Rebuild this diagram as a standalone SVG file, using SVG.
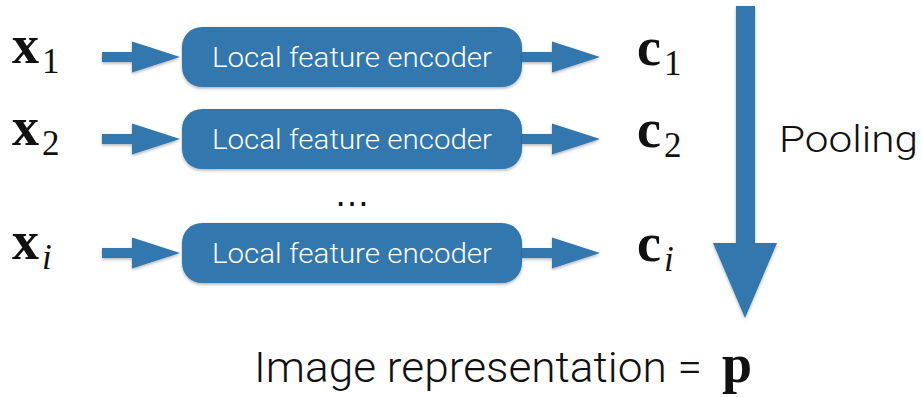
<svg xmlns="http://www.w3.org/2000/svg" width="922" height="397" viewBox="0 0 922 397">
  <style>
    .box { fill: #3077ae; filter: url(#shadow); }
    .arrow { fill: #3077ae; filter: url(#shadow); }
    .label { fill: #ffffff; font-family: "Roboto", "Liberation Sans", sans-serif; font-weight: 300; font-size: 27px; text-anchor: middle; }
    .math { fill: #111111; font-family: "Liberation Serif", "DejaVu Serif", serif; font-weight: bold; font-size: 54px; }
    .sub { font-family: "Liberation Serif", "DejaVu Serif", serif; font-weight: normal; font-size: 35px; }
    .subi { font-family: "Liberation Serif", "DejaVu Serif", serif; font-weight: normal; font-style: italic; font-size: 35px; }
    .plain { fill: #111111; font-family: "Roboto", "Liberation Sans", sans-serif; font-weight: 300; }
  </style>
  <defs>
    <filter id="shadow" x="-10%" y="-20%" width="120%" height="150%">
      <feDropShadow dx="0" dy="1.5" stdDeviation="1.5" flood-color="#000" flood-opacity="0.3"/>
    </filter>
    <!-- horizontal block arrow, origin at left end of shaft, centred on y=0 -->
    <path id="harrow" d="M0,-5 H30 V-15.5 L78,0 L30,15.5 V5 H0 Z"/>
  </defs>

  <rect width="922" height="397" fill="#ffffff"/>

  <!-- inputs -->
  <g id="x1"><text class="math" x="12" y="63">x<tspan class="sub" dx="3" dy="10">1</tspan></text></g>
  <g id="x2"><text class="math" x="12" y="145">x<tspan class="sub" dx="3" dy="10">2</tspan></text></g>
  <g id="xi"><text class="math" x="12" y="259">x<tspan class="subi" dx="3" dy="10">i</tspan></text></g>

  <!-- encoders -->
  <g id="encoder1">
    <rect class="box" x="182" y="27" width="340" height="60" rx="20"/>
    <text class="label" x="352" y="67" textLength="280" lengthAdjust="spacingAndGlyphs">Local feature encoder</text>
  </g>
  <g id="encoder2">
    <rect class="box" x="182" y="109" width="340" height="60" rx="20"/>
    <text class="label" x="352" y="149" textLength="280" lengthAdjust="spacingAndGlyphs">Local feature encoder</text>
  </g>
  <g id="encoderi">
    <rect class="box" x="182" y="223" width="340" height="60" rx="20"/>
    <text class="label" x="352" y="263" textLength="280" lengthAdjust="spacingAndGlyphs">Local feature encoder</text>
  </g>

  <!-- codes -->
  <g id="c1"><text class="math" x="637" y="65">c<tspan class="sub" dx="3" dy="10">1</tspan></text></g>
  <g id="c2"><text class="math" x="637" y="147">c<tspan class="sub" dx="3" dy="10">2</tspan></text></g>
  <g id="ci"><text class="math" x="637" y="261">c<tspan class="subi" dx="3" dy="10">i</tspan></text></g>

  <!-- ellipsis between rows -->
  <g id="dots">
    <text x="352" y="206" font-family="Liberation Sans, sans-serif" font-size="36" fill="#111111" text-anchor="middle" textLength="36" lengthAdjust="spacing">…</text>
  </g>

  <!-- connectors -->
  <g id="connectors">
    <use href="#harrow" class="arrow" x="102" y="57"/>
    <use href="#harrow" class="arrow" x="102" y="139"/>
    <use href="#harrow" class="arrow" x="102" y="253"/>
    <use href="#harrow" class="arrow" x="522" y="57"/>
    <use href="#harrow" class="arrow" x="522" y="139"/>
    <use href="#harrow" class="arrow" x="522" y="253"/>
    <!-- pooling arrow -->
    <path class="arrow" d="M736,6 H755 V243 H777 L745,318 L713,243 H736 Z"/>
  </g>

  <g id="pooling">
    <text class="plain" x="779" y="152" font-size="37" textLength="139" lengthAdjust="spacingAndGlyphs">Pooling</text>
  </g>

  <g id="output">
    <text class="plain" x="254" y="382" font-size="42" textLength="448" lengthAdjust="spacingAndGlyphs">Image representation =</text>
    <text class="math" x="722" y="382">p</text>
  </g>
</svg>
